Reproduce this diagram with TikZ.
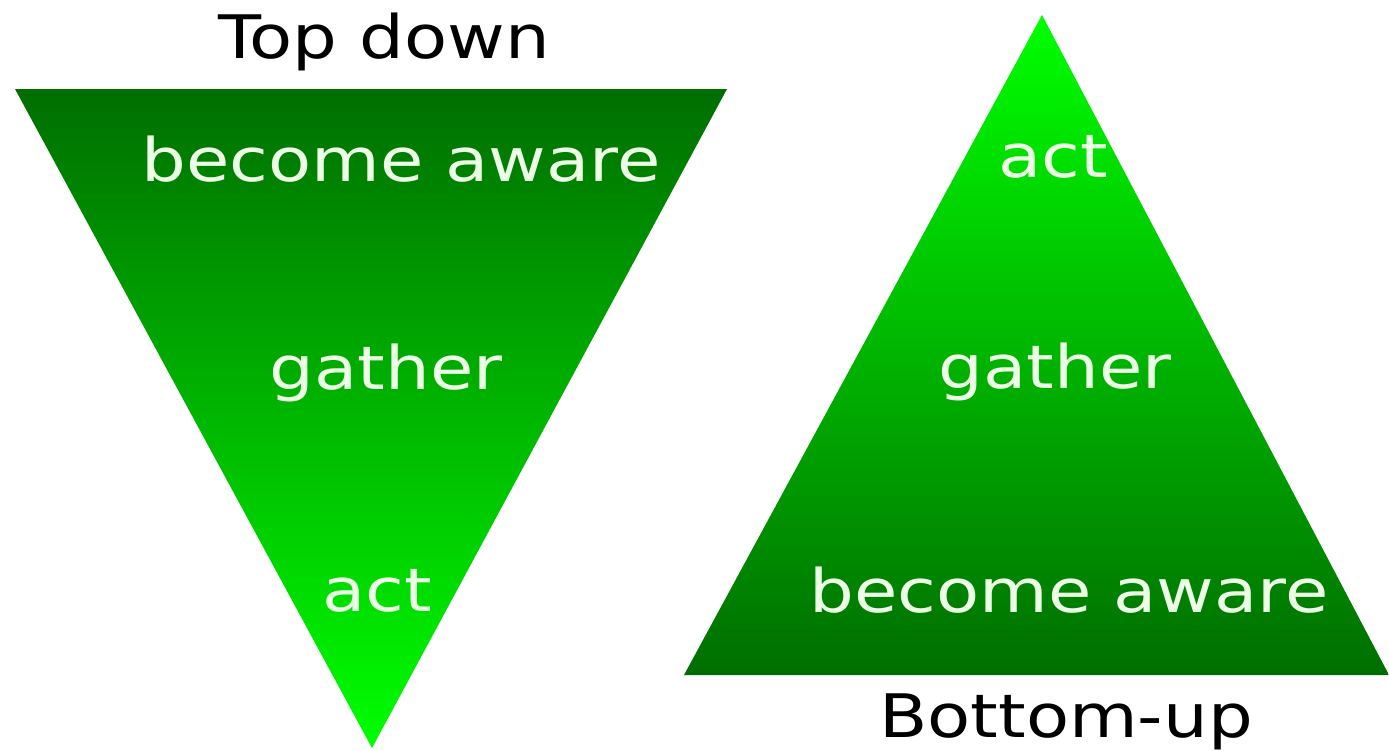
\documentclass[tikz,border=0pt]{standalone}
\usepackage{fontspec}
\setmainfont{DejaVu Sans}
\newfontfamily\widefont[FakeStretch=1.175]{DejaVu Sans}
\definecolor{ltop}{RGB}{0,110,0}
\definecolor{lmid}{RGB}{0,205,0}
\definecolor{brgreen}{RGB}{0,255,0}
\definecolor{rmid}{RGB}{0,198,0}
\definecolor{rbase}{RGB}{0,110,0}
\definecolor{lbltext}{RGB}{236,255,230}
\begin{document}
\begin{tikzpicture}[x=1pt,y=-1pt,
  lbl/.style={font=\widefont\fontsize{60}{64}\selectfont, text=lbltext, anchor=base, inner sep=0pt},
  ttl/.style={font=\widefont\fontsize{60}{64}\selectfont, text=black, anchor=base, inner sep=0pt}]
\useasboundingbox (0,0) rectangle (1389,750);
\fill[white] (0,0) rectangle (1389,750);
% left triangle (top down)
\coordinate (L1) at (15,89);
\coordinate (L2) at (727,89);
\coordinate (L3) at (372,748);
\shade[top color=ltop, middle color=lmid, bottom color=brgreen] (L1) -- (L2) -- (L3) -- cycle;
% right triangle (bottom-up)
\coordinate (R1) at (1042,15);
\coordinate (R2) at (1389,675);
\coordinate (R3) at (684,675);
\shade[top color=brgreen, middle color=rmid, bottom color=rbase] (R1) -- (R2) -- (R3) -- cycle;
% titles
\node[ttl] (tdown) at (384,58) {Top down};
\node[ttl] (bup) at (1066,737) {Bottom-up};
% left labels
\node[lbl] (lba) at (401,181) {become aware};
\node[lbl] (lga) at (386,389) {gather};
\node[lbl] (lac) at (377,611) {act};
% right labels
\node[lbl] (rac) at (1053,177) {act};
\node[lbl] (rga) at (1055,388) {gather};
\node[lbl] (rba) at (1069,612) {become aware};
\end{tikzpicture}
\end{document}
